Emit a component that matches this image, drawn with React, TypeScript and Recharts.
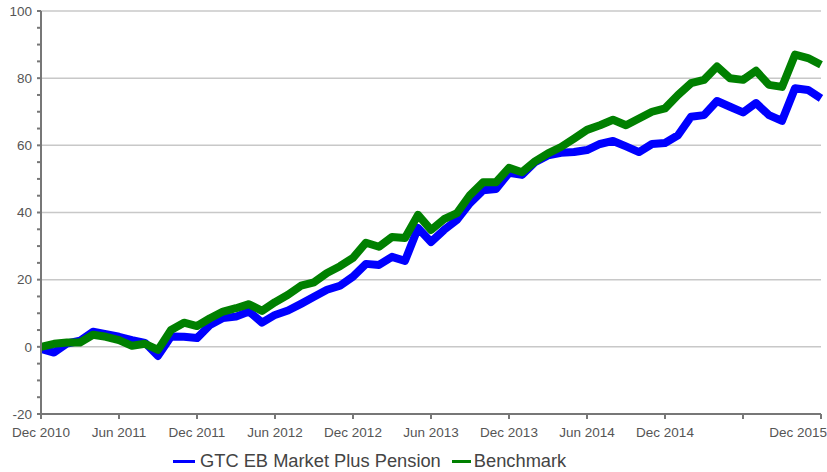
import React from 'react';
import { LineChart, Line, XAxis, YAxis, ReferenceLine, Legend } from 'recharts';

// monthly cumulative returns (%), Dec 2010 .. Dec 2015
const fund = [
  -0.6, -1.7, 1.0, 1.8, 4.5, 3.8, 3.0, 2.0, 1.2, -2.7, 3.1, 3.0, 2.6,
  6.5, 8.6, 9.0, 10.5, 7.2, 9.5, 10.8, 12.8, 14.9, 17.0, 18.2, 20.9,
  24.7, 24.4, 26.8, 25.6, 35.4, 31.2, 34.8, 37.8, 42.8, 46.6, 47.0, 51.8,
  51.2, 55.0, 57.0, 57.8, 58.0, 58.6, 60.4, 61.3, 59.7, 58.0, 60.4, 60.7,
  63.0, 68.5, 69.0, 73.2, 71.5, 69.8, 72.6, 69.0, 67.3, 77.0, 76.5, 74.0,
];
const benchmark = [
  0.0, 0.9, 1.3, 1.3, 3.6, 3.0, 2.0, 0.3, 0.9, -0.9, 5.0, 7.2, 6.2,
  8.5, 10.5, 11.5, 12.7, 10.7, 13.3, 15.5, 18.2, 19.2, 22.0, 24.0, 26.5,
  31.0, 29.8, 32.7, 32.4, 39.3, 34.8, 38.0, 39.8, 45.2, 49.0, 49.0, 53.3,
  52.0, 55.2, 57.6, 59.5, 62.0, 64.6, 66.0, 67.6, 66.0, 68.0, 70.0, 71.0,
  75.0, 78.5, 79.5, 83.5, 80.0, 79.5, 82.2, 78.0, 77.4, 87.0, 86.0, 84.0,
];

const monthNames = ['Jan', 'Feb', 'Mar', 'Apr', 'May', 'Jun', 'Jul', 'Aug', 'Sep', 'Oct', 'Nov', 'Dec'];
const months = fund.map((_, i) => {
  const m = (11 + i) % 12;
  const y = 2010 + Math.floor((11 + i) / 12);
  return `${monthNames[m]} ${y}`;
});

const xTicks = ['Dec 2010', 'Jun 2011', 'Dec 2011', 'Jun 2012', 'Dec 2012', 'Jun 2013', 'Dec 2013', 'Jun 2014', 'Dec 2014', 'Jun 2015', 'Dec 2015'];
const xHidden = ['Jun 2015'];
const yTicks = [-20, -15, -10, -5, 0, 5, 10, 15, 20, 25, 30, 35, 40, 45, 50, 55, 60, 65, 70, 75, 80, 85, 90, 95, 100];
const gridValues = [0, 20, 40, 60, 80, 100];

const data = months.map((month, i) => ({ month, fund: fund[i], benchmark: benchmark[i] }));

const font = 'Arial, "Liberation Sans", sans-serif';

const YTick = (props: any) => {
  const { x, y, payload } = props;
  if (payload.value % 20 !== 0) return null;
  return (
    <text x={x} y={y} dy="0.35em" textAnchor="end" fill="#555" fontSize={13.5} fontFamily={font}>
      {payload.value}
    </text>
  );
};

const XTick = (props: any) => {
  const { x, y, payload } = props;
  if (xHidden.includes(payload.value)) return null;
  const last = payload.value === xTicks[xTicks.length - 1];
  return (
    <text x={last ? x + 6 : x} y={y} dy="0.71em" textAnchor={last ? 'end' : 'middle'} fill="#555" fontSize={13.5} fontFamily={font}>
      {payload.value}
    </text>
  );
};

const LegendBox = () => (
  <div style={{ display: 'flex', alignItems: 'center', fontFamily: font, fontSize: 18.3, color: '#444', paddingLeft: 173, paddingTop: 8 }}>
    <span style={{ display: 'inline-block', width: 22, height: 3, background: '#0000ff', marginRight: 5 }} />
    <span style={{ marginRight: 11 }}>GTC EB Market Plus Pension</span>
    <span style={{ display: 'inline-block', width: 19, height: 3, background: '#008000', marginRight: 3 }} />
    <span>Benchmark</span>
  </div>
);

export default function App() {
  return (
    <div style={{ position: 'absolute', left: 0, top: 0, width: 827, height: 472, background: '#fff' }}>
      <LineChart width={827} height={472} data={data} margin={{ top: 11, right: 6, left: 0, bottom: 0 }}>
        {gridValues.map((v) => (
          <ReferenceLine key={v} y={v} stroke="#c8c8c8" strokeWidth={1.5} />
        ))}
        <XAxis
          dataKey="month"
          ticks={xTicks}
          interval={0}
          tick={<XTick />}
          tickSize={5}
          tickMargin={8}
          height={28}
          stroke="#777"
          strokeWidth={2}
        />
        <YAxis
          domain={[-20, 100]}
          ticks={yTicks}
          interval={0}
          width={41}
          tick={<YTick />}
          tickSize={4}
          tickMargin={5}
          stroke="#777"
          strokeWidth={2}
        />
        <Legend verticalAlign="bottom" height={30} content={<LegendBox />} wrapperStyle={{ left: 0, width: 827 }} />
        <Line dataKey="fund" stroke="#0000ff" strokeWidth={8} dot={false} isAnimationActive={false} strokeLinejoin="round" />
        <Line dataKey="benchmark" stroke="#008000" strokeWidth={8} dot={false} isAnimationActive={false} strokeLinejoin="round" />
      </LineChart>
    </div>
  );
}
